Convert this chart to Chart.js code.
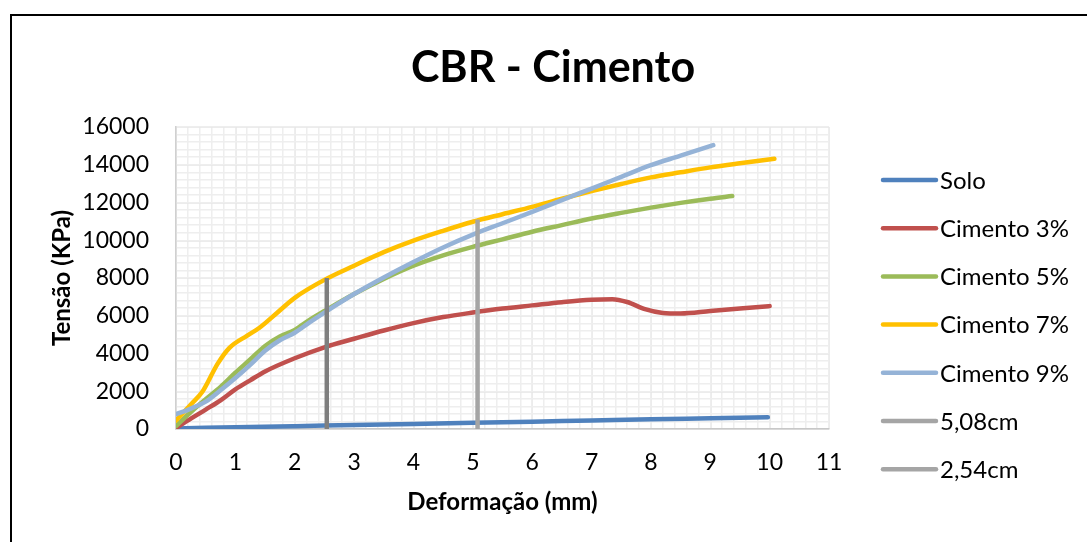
<!DOCTYPE html>
<html>
<head>
<meta charset="utf-8">
<script src="https://cdn.jsdelivr.net/npm/chart.js@4.4.1/dist/chart.umd.min.js"></script>
<style>
  body { margin: 0; background: #fff; }
  canvas { display: block; }
</style>
</head>
<body>
<canvas id="cbrChart" width="1087" height="542"></canvas>
<script>
// Dados (Deformação em mm, Tensão em KPa)
const xSolo = [0, 1, 2, 3, 4, 5, 6, 7, 8, 9, 9.97];
const solo = [30, 90, 150, 210, 270, 330, 390, 450, 510, 565, 620];

const xCim3 = [0, 0.25, 0.5, 0.75, 1, 1.25, 1.5, 2, 2.5, 3, 3.5, 4, 4.5, 5, 5.5, 6, 6.5, 7, 7.35, 7.6, 7.9, 8.2, 8.5, 9, 9.5, 10];
const cim3 = [50, 550, 1030, 1520, 2100, 2580, 3050, 3750, 4330, 4780, 5220, 5610, 5930, 6170, 6380, 6550, 6720, 6850, 6880, 6730, 6350, 6150, 6120, 6250, 6380, 6510];

const xCim5 = [0, 0.25, 0.5, 0.75, 1, 1.25, 1.5, 1.75, 2, 2.25, 2.5, 3, 3.5, 4, 4.5, 5, 5.5, 6, 6.5, 7, 7.5, 8, 8.5, 9, 9.37];
const cim5 = [150, 900, 1580, 2230, 2980, 3680, 4400, 4900, 5250, 5780, 6250, 7150, 7950, 8650, 9200, 9650, 10050, 10450, 10800, 11150, 11450, 11730, 11980, 12200, 12340];

const xCim7 = [0, 0.25, 0.45, 0.7, 0.9, 1.2, 1.4, 1.7, 2, 2.5, 3, 3.5, 4, 4.5, 5, 5.5, 6, 6.5, 7, 7.5, 8, 8.5, 9, 9.5, 10.08];
const cim7 = [450, 1300, 2000, 3450, 4300, 4950, 5350, 6150, 6950, 7900, 8650, 9370, 9980, 10500, 10980, 11380, 11770, 12200, 12600, 12980, 13330, 13600, 13860, 14080, 14320];

const xCim9 = [0, 0.25, 0.5, 0.75, 1, 1.25, 1.5, 1.75, 2, 2.25, 2.5, 3, 3.5, 4, 4.5, 5, 5.5, 6, 6.5, 7, 7.5, 8, 8.5, 9.05];
const cim9 = [780, 1080, 1450, 2050, 2700, 3400, 4150, 4700, 5100, 5650, 6170, 7150, 8030, 8850, 9620, 10300, 10900, 11500, 12130, 12740, 13360, 13980, 14480, 15040];

const x508 = [5.08, 5.08];
const ref508 = [0, 11100];
const x254 = [2.54, 2.54];
const ref254 = [0, 8000];

const xTicks = { min: 0, max: 11, step: 1, minor: 0.2 };
const yTicks = { min: 0, max: 16000, step: 2000, minor: 400 };

const FONT = 'Lato, "Open Sans", sans-serif';

function pts(xs, ys) {
    return xs.map((x, i) => ({ x: x, y: ys[i] }));
}

function serie(label, xs, ys, color, idx, extra) {
    return Object.assign({
        label: label,
        data: pts(xs, ys),
        borderColor: color,
        backgroundColor: color,
        borderWidth: 4.5,
        borderCapStyle: 'round',
        borderJoinStyle: 'round',
        pointRadius: 0,
        pointHoverRadius: 0,
        showLine: true,
        cubicInterpolationMode: 'monotone',
        order: -idx
    }, extra || {});
}

const datasets = [
    serie('Solo', xSolo, solo, '#4F81BD', 0),
    serie('Cimento 3%', xCim3, cim3, '#C0504D', 1),
    serie('Cimento 5%', xCim5, cim5, '#9BBB59', 2),
    serie('Cimento 7%', xCim7, cim7, '#FFC000', 3),
    serie('Cimento 9%', xCim9, cim9, '#95B3D7', 4),
    serie('5,08cm', x508, ref508, '#A5A5A5', 5, { borderCapStyle: 'butt' }),
    serie('2,54cm', x254, ref254, '#7F7F7F', 6, { borderCapStyle: 'butt', legendColor: '#A5A5A5' })
];

// Título, legenda e moldura desenhados à mão
const extras = {
    id: 'extras',
    beforeDraw(chart) {
        const ctx = chart.ctx;
        ctx.save();
        ctx.strokeStyle = '#000';
        ctx.lineWidth = 2;
        ctx.beginPath();
        ctx.moveTo(11, 542);
        ctx.lineTo(11, 15);
        ctx.lineTo(1087, 15);
        ctx.stroke();
        ctx.restore();
    },
    afterDraw(chart) {
        const ctx = chart.ctx;
        ctx.save();
        ctx.fillStyle = '#000';
        ctx.font = 'bold 43px ' + FONT;
        ctx.textAlign = 'center';
        ctx.textBaseline = 'middle';
        ctx.fillText('CBR - Cimento', 553, 68);

        ctx.font = '24px ' + FONT;
        ctx.textAlign = 'left';
        chart.data.datasets.forEach((ds, i) => {
            const y = 180 + i * 48.2;
            ctx.strokeStyle = ds.legendColor || ds.borderColor;
            ctx.lineWidth = 4.5;
            ctx.lineCap = 'round';
            ctx.beginPath();
            ctx.moveTo(883, y);
            ctx.lineTo(936, y);
            ctx.stroke();
            ctx.fillText(ds.label, 940, y + 1);
        });
        ctx.restore();
    }
};

new Chart(document.getElementById('cbrChart'), {
    type: 'scatter',
    data: { datasets: datasets },
    plugins: [extras],
    options: {
        responsive: false,
        devicePixelRatio: 1,
        animation: false,
        layout: { padding: { left: 0, right: 258, top: 127, bottom: 0 } },
        plugins: {
            legend: { display: false },
            tooltip: { enabled: false },
            title: { display: false }
        },
        scales: {
            x: {
                type: 'linear',
                position: 'bottom',
                min: xTicks.min,
                max: xTicks.max,
                z: -1,
                ticks: { stepSize: xTicks.step, color: '#000', font: { family: FONT, size: 23 }, padding: 20 },
                grid: { color: '#d9d9d9', lineWidth: 1.5, drawTicks: false },
                border: { color: '#c8c8c8', width: 1.5 },
                title: {
                    display: true,
                    text: 'Deformação (mm)',
                    color: '#000',
                    font: { family: FONT, size: 24, weight: 'bold' },
                    padding: { top: 0, bottom: 25 }
                },
                afterFit(scale) { scale.height = 113; }
            },
            xMinor: {
                type: 'linear',
                position: 'bottom',
                min: xTicks.min,
                max: xTicks.max,
                z: -2,
                ticks: { stepSize: xTicks.minor, display: false },
                grid: { color: '#eeeeee', lineWidth: 1.5, drawTicks: false },
                border: { display: false },
                afterFit(scale) { scale.height = 0; }
            },
            y: {
                type: 'linear',
                position: 'left',
                min: yTicks.min,
                max: yTicks.max,
                z: -1,
                ticks: {
                    stepSize: yTicks.step,
                    color: '#000',
                    font: { family: FONT, size: 23 },
                    padding: 27,
                    callback: v => String(v)
                },
                grid: { color: '#d9d9d9', lineWidth: 1.5, drawTicks: false },
                border: { color: '#d0d0d0', width: 1.5 },
                title: {
                    display: true,
                    text: 'Tensão (KPa)',
                    color: '#000',
                    font: { family: FONT, size: 24, weight: 'bold' },
                    padding: { top: 48, bottom: 0 }
                },
                afterFit(scale) { scale.width = 176; }
            },
            yMinor: {
                type: 'linear',
                position: 'left',
                min: yTicks.min,
                max: yTicks.max,
                z: -2,
                ticks: { stepSize: yTicks.minor, display: false },
                grid: { color: '#eeeeee', lineWidth: 1.5, drawTicks: false },
                border: { display: false },
                afterFit(scale) { scale.width = 0; }
            }
        }
    }
});
</script>
</body>
</html>
